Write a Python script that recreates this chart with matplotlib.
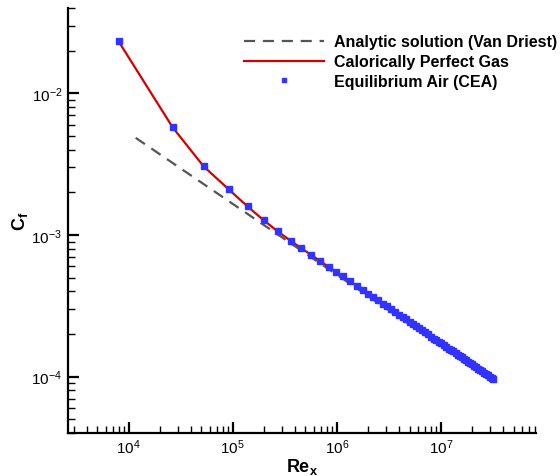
import matplotlib
matplotlib.use('Agg')
import matplotlib.pyplot as plt
from matplotlib.ticker import LogLocator, NullFormatter

plt.rcParams['font.family'] = ['Liberation Sans', 'DejaVu Sans']
plt.rcParams['mathtext.fontset'] = 'custom'
plt.rcParams['mathtext.rm'] = 'Liberation Sans'
plt.rcParams['mathtext.it'] = 'Liberation Sans:italic'
plt.rcParams['mathtext.bf'] = 'Liberation Sans:bold'
plt.rcParams['axes.unicode_minus'] = False

# Reynolds number along the plate
re_x = [8.0e3, 2.65e4, 5.26e4, 9.16e4, 1.39e5, 1.99e5, 2.71e5, 3.61e5, 4.51e5,
        5.62e5, 6.87e5, 8.38e5, 9.78e5, 1.14e6, 1.33e6, 1.56e6, 1.78e6, 1.99e6,
        2.22e6, 2.48e6, 2.77e6, 3.03e6, 3.30e6, 3.61e6, 3.95e6, 4.31e6, 4.61e6,
        5.04e6, 5.38e6, 5.75e6, 6.14e6, 6.56e6, 7.02e6, 7.50e6, 8.02e6, 8.57e6,
        8.96e6, 9.57e6, 1.00e7, 1.07e7, 1.12e7, 1.19e7, 1.25e7, 1.30e7, 1.39e7,
        1.46e7, 1.52e7, 1.59e7, 1.66e7, 1.74e7, 1.82e7, 1.90e7, 1.99e7, 2.08e7,
        2.17e7, 2.27e7, 2.37e7, 2.48e7, 2.59e7, 2.71e7, 2.83e7, 2.96e7, 3.09e7,
        3.16e7]

# skin friction, calorically perfect gas
cf_cpg = [2.33e-2, 5.75e-3, 3.05e-3, 2.10e-3, 1.59e-3, 1.27e-3, 1.06e-3, 9.10e-4,
          8.12e-4, 7.27e-4, 6.58e-4, 5.95e-4, 5.51e-4, 5.10e-4, 4.73e-4, 4.36e-4,
          4.09e-4, 3.86e-4, 3.66e-4, 3.46e-4, 3.27e-4, 3.13e-4, 3.00e-4, 2.87e-4,
          2.74e-4, 2.63e-4, 2.54e-4, 2.43e-4, 2.35e-4, 2.27e-4, 2.20e-4, 2.13e-4,
          2.06e-4, 1.99e-4, 1.92e-4, 1.86e-4, 1.82e-4, 1.76e-4, 1.72e-4, 1.67e-4,
          1.63e-4, 1.58e-4, 1.54e-4, 1.51e-4, 1.46e-4, 1.43e-4, 1.40e-4, 1.37e-4,
          1.34e-4, 1.31e-4, 1.28e-4, 1.25e-4, 1.22e-4, 1.19e-4, 1.17e-4, 1.14e-4,
          1.12e-4, 1.09e-4, 1.07e-4, 1.05e-4, 1.02e-4, 1.00e-4, 9.8e-5, 9.7e-5]

# skin friction, equilibrium air (CEA) - same stations
cf_cea = list(cf_cpg)

# Van Driest analytic solution
re_vd = [1.17e4, 3.0e4, 1.0e5, 3.0e5, 1.0e6, 3.0e6, 1.0e7, 3.16e7]
cf_vd = [4.85e-3, 3.03e-3, 1.66e-3, 9.59e-4, 5.25e-4, 3.03e-4, 1.66e-4, 9.34e-5]

fig = plt.figure(figsize=(5.6, 4.77), dpi=100)
ax = fig.add_axes([0.121, 0.090, 0.836, 0.891])

ax.plot(re_vd, cf_vd, color='#555555', lw=1.6, ls=(0, (5, 3.5)),
        label='Analytic solution (Van Driest)')
ax.plot(re_x, cf_cpg, color='#d40000', lw=1.6, label='Calorically Perfect Gas')
ax.plot(re_x, cf_cea, ls='none', marker='s', ms=4.4, color='#3333ff',
        label='Equilibrium Air (CEA)')

ax.set_xscale('log')
ax.set_yscale('log')
ax.set_xlim(2.6e3, 8.2e7)
ax.set_ylim(4.0e-5, 4.0e-2)

ax.spines['top'].set_visible(False)
ax.spines['right'].set_visible(False)
for s in ('left', 'bottom'):
    ax.spines[s].set_linewidth(1.6)

ax.xaxis.set_major_locator(LogLocator(base=10, numticks=20))
ax.xaxis.set_minor_locator(LogLocator(base=10, subs=range(2, 10), numticks=20))
ax.yaxis.set_major_locator(LogLocator(base=10, numticks=20))
ax.yaxis.set_minor_locator(LogLocator(base=10, subs=range(2, 10), numticks=20))
ax.xaxis.set_minor_formatter(NullFormatter())
ax.yaxis.set_minor_formatter(NullFormatter())
ax.tick_params(which='major', direction='in', length=8, width=1.6, labelsize=11)
ax.tick_params(axis='x', which='major', pad=3)
ax.tick_params(axis='y', which='major', pad=4)
ax.tick_params(which='minor', direction='in', length=5, width=1.0)
ax.tick_params(top=False, right=False, which='both')

ax.set_xlabel(r'$\mathbf{Re_x}$', fontsize=13, labelpad=0)
ax.set_ylabel(r'$\mathbf{C_f}$', fontsize=13, labelpad=1)

leg = ax.legend(loc='upper right', bbox_to_anchor=(1.075, 0.972), frameon=False,
                prop={'weight': 'bold', 'size': 11.5}, handlelength=5.0,
                handletextpad=0.6, labelspacing=0.3, markerscale=0.8)

fig.savefig('out.png', dpi=100)
